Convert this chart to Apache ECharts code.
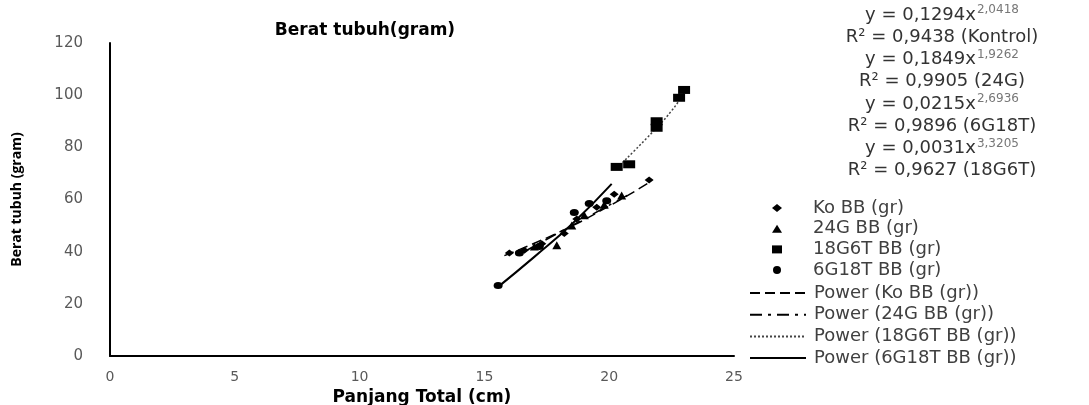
<!DOCTYPE html>
<html><head><meta charset="utf-8">
<script src="https://cdn.jsdelivr.net/npm/echarts@6/dist/echarts.min.js"></script>
<style>html,body{margin:0;padding:0;background:#fff}#c{width:1089px;height:405px}</style>
</head><body><div id="c"></div>
<script>
// data: [Panjang Total (cm), Berat tubuh (gram)]
const koBB = [[16.0,39.5],[16.6,40.5],[17.3,43],[18.2,47],[18.7,52.5],[19.5,57],[20.2,62],[21.6,67.5]];
const g24BB = [[17.0,42],[17.9,42.5],[18.5,50],[19.0,54],[19.8,58],[20.5,61.5]];
const g18t6BB = [[20.3,72.5],[20.8,73.5],[21.9,87.5],[21.9,90],[22.8,99],[23.0,102]];
const g6t18BB = [[15.55,27],[16.4,39.5],[17.2,42],[18.6,55],[19.2,58.5],[19.9,59.5]];
// trendline points
const trendKo = [[15.8,38.5],[18.0,47.5],[20.0,57.5],[21.6,66.5]];
const trend24G = [[16.5,39.5],[18.5,50],[20.8,62]];
const trend18G6T = [[20.3,72],[21.5,83.5],[22.5,94],[23.0,101]];
const trend6G18T = [[15.55,26.5],[17.0,38],[18.5,50.5],[20.1,66]];
const xTicks = [0,25,5]; // min,max,interval
const yTicks = [0,120,20];
const scatterNames = ['Ko BB (gr)','24G BB (gr)','18G6T BB (gr)','6G18T BB (gr)'];
const trendNames = ['Power (Ko BB (gr))','Power (24G BB (gr))','Power (18G6T BB (gr))','Power (6G18T BB (gr))'];
const equations = [
  ['y = 0,1294x','2,0418','R² = 0,9438 (Kontrol)'],
  ['y = 0,1849x','1,9262','R² = 0,9905 (24G)'],
  ['y = 0,0215x','2,6936','R² = 0,9896 (6G18T)'],
  ['y = 0,0031x','3,3205','R² = 0,9627 (18G6T)']
];
const FONT = 'DejaVu Sans';
const chart = echarts.init(document.getElementById('c'));
const eqGraphics = [];
equations.forEach((e,i)=>{
  eqGraphics.push({type:'text', x: 942, y: 15 + i*44.5, style:{
    text: '{b|'+e[0]+'}{s|'+e[1]+'}', align:'center', verticalAlign:'middle',
    rich:{b:{fontSize:18,fontFamily:FONT,fill:'#333',lineHeight:22},
          s:{fontSize:12,fontFamily:FONT,fill:'#777',lineHeight:22,verticalAlign:'top',padding:[0,0,0,1]}}}});
  eqGraphics.push({type:'text', x: 942, y: 37 + i*44.5, style:{
    text: e[2], align:'center', verticalAlign:'middle', fontSize:18, fontFamily:FONT, fill:'#333'}});
});
chart.setOption({
  animation:false,
  textStyle:{fontFamily:FONT},
  title:{text:'Berat tubuh(gram)', left:360, top:17, textAlign:'center',
    textStyle:{fontSize:17,fontWeight:'bold',color:'#000',fontFamily:FONT}},
  grid:{left:110,right:355,top:43,bottom:49,containLabel:false,outerBoundsMode:'none'},
  xAxis:{type:'value',min:xTicks[0],max:xTicks[1],interval:xTicks[2],
    name:'Panjang Total (cm)',nameLocation:'middle',nameGap:27,
    nameTextStyle:{fontSize:17,fontWeight:'bold',color:'#000',fontFamily:FONT},
    axisLine:{lineStyle:{color:'#000',width:2}},axisTick:{show:false},splitLine:{show:false},
    axisLabel:{fontSize:14,color:'#595959',margin:14}},
  yAxis:{type:'value',min:yTicks[0],max:yTicks[1],interval:yTicks[2],
    name:'Berat tubuh (gram)',nameLocation:'middle',nameGap:86,nameRotate:90,
    nameTextStyle:{fontSize:14,fontWeight:'bold',color:'#000',fontFamily:'Open Sans'},
    axisLine:{show:true,lineStyle:{color:'#000',width:2}},axisTick:{show:false},splitLine:{show:false},
    axisLabel:{fontSize:15,color:'#595959',margin:27}},
  legend:[
    {orient:'vertical',left:767,top:194,itemWidth:10,itemHeight:8,itemGap:2.7,
     textStyle:{fontSize:18,color:'#404040',lineHeight:17,padding:[0,0,0,26]},data:scatterNames},
    {orient:'vertical',left:744,top:279,itemWidth:56,itemHeight:8,itemGap:3.7,
     itemStyle:{opacity:0},
     textStyle:{fontSize:18,color:'#404040',lineHeight:17,padding:[0,0,0,3]},data:trendNames}
  ],
  graphic: eqGraphics,
  series:[
    {name:trendNames[0],type:'line',data:trendKo,symbol:'none',smooth:true,z:2,
      lineStyle:{color:'#000',width:1.5,type:[10,5]},itemStyle:{color:'#000'}},
    {name:trendNames[1],type:'line',data:trend24G,symbol:'none',smooth:true,z:2,
      lineStyle:{color:'#000',width:1.5,type:[12,6,3,6]},itemStyle:{color:'#000'}},
    {name:trendNames[2],type:'line',data:trend18G6T,symbol:'none',smooth:true,z:2,
      lineStyle:{color:'#444',width:1.5,type:[2,2]},itemStyle:{color:'#444'}},
    {name:trendNames[3],type:'line',data:trend6G18T,symbol:'none',smooth:true,z:2,
      lineStyle:{color:'#000',width:2,type:'solid'},itemStyle:{color:'#000'}},
    {name:scatterNames[0],type:'scatter',data:koBB,symbol:'diamond',symbolSize:[9,7],itemStyle:{color:'#000',opacity:1},z:3},
    {name:scatterNames[1],type:'scatter',data:g24BB,symbol:'triangle',symbolSize:[9,8],itemStyle:{color:'#000',opacity:1},z:3},
    {name:scatterNames[2],type:'scatter',data:g18t6BB,symbol:'rect',symbolSize:[12,8],itemStyle:{color:'#000',opacity:1},z:3},
    {name:scatterNames[3],type:'scatter',data:g6t18BB,symbol:'circle',symbolSize:[9,7],itemStyle:{color:'#000',opacity:1},z:3}
  ]
});
</script></body></html>
